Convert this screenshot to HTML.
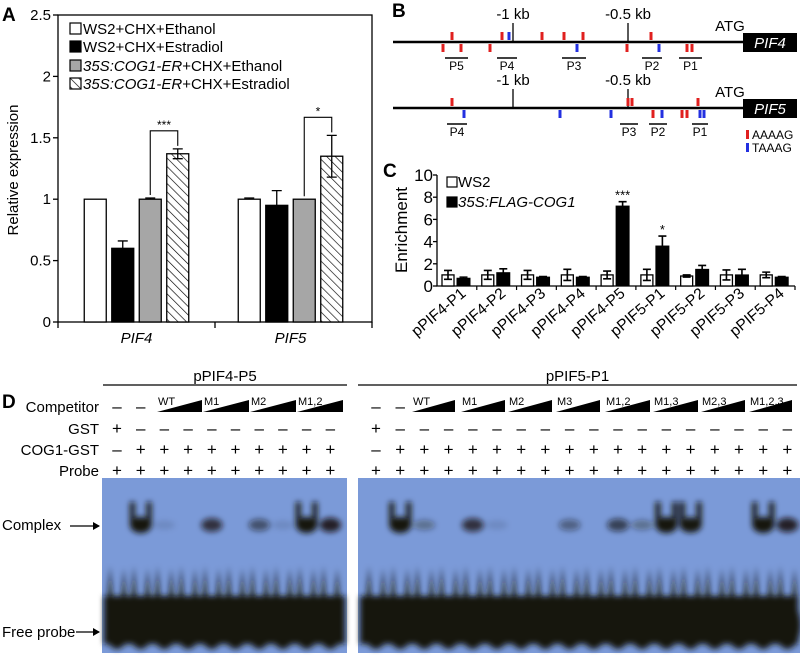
<!DOCTYPE html>
<html><head><meta charset="utf-8"><style>
html,body{margin:0;padding:0;background:#fff}
svg{display:block;font-family:"Liberation Sans",Arial,sans-serif}
</style></head><body>
<svg id="fig" width="800" height="655" viewBox="0 0 800 655">
<defs>
<pattern id="hatch" patternUnits="userSpaceOnUse" width="6" height="6" patternTransform="rotate(-45)">
<rect width="6" height="6" fill="#fff"/><line x1="0" y1="0" x2="0" y2="6" stroke="#000" stroke-width="1.3"/></pattern>
<filter id="blur3"><feGaussianBlur stdDeviation="3"/></filter>
</defs>
<g id="pa"></g>
<g id="pb"></g>
<g id="pc"></g>
<g id="pd"></g>
</svg>
<script>
// Panel A data
const aGenes = ["PIF4","PIF5"];
const aSeries = ["WS2+CHX+Ethanol","WS2+CHX+Estradiol","35S:COG1-ER+CHX+Ethanol","35S:COG1-ER+CHX+Estradiol"];
const aPIF4 = [1.0, 0.6, 1.0, 1.37];
const aPIF5 = [1.0, 0.95, 1.0, 1.35];
const aErr4 = [0, 0.06, 0.01, 0.04];
const aErr5 = [0.01, 0.12, 0, 0.17];
const aTicks = [0, 0.5, 1, 1.5, 2, 2.5];
const aTickLabels = ["0","0.5","1","1.5","2","2.5"];
// Panel C data
const cCats = ["pPIF4-P1","pPIF4-P2","pPIF4-P3","pPIF4-P4","pPIF4-P5","pPIF5-P1","pPIF5-P2","pPIF5-P3","pPIF5-P4"];
const cWS2 = [1.0, 1.0, 1.0, 1.0, 1.0, 1.0, 0.9, 1.0, 1.0];
const cWS2Err = [0.4, 0.4, 0.4, 0.5, 0.35, 0.5, 0.1, 0.45, 0.25];
const cFLAG = [0.7, 1.2, 0.8, 0.8, 7.2, 3.6, 1.5, 1.0, 0.8];
const cFLAGErr = [0.1, 0.35, 0.05, 0.05, 0.4, 0.9, 0.35, 0.5, 0.05];
const cTicks = [0,2,4,6,8,10];
// Panel D data
const dLeftComplex = [0,1,0.1,0,0.7,0,0.5,0.1,1,0.8];
const dRightComplex = [0,1,0.3,0,0.7,0.1,0,0,0.4,0,0.6,0.3,1,0.9,0,0,1,0.8];

const NS="http://www.w3.org/2000/svg";
function mk(parent,tag,attrs,text){const e=document.createElementNS(NS,tag);for(const k in attrs)e.setAttribute(k,attrs[k]);if(text!==undefined)e.textContent=text;parent.appendChild(e);return e;}

/* ---------- Panel A ---------- */
const pa=document.getElementById('pa');
const aY0=322, aY1=15, aX0=58, aX1=372;
const ay=v=>aY0-(v/2.5)*(aY0-aY1);
let t=mk(pa,'text',{x:2,y:21,'font-size':19,'font-weight':'bold'},'A');

let fr=mk(pa,'rect',{x:aX0,y:aY1,width:aX1-aX0,height:aY0-aY1,fill:'none',stroke:'#000','stroke-width':1.3});

aTicks.forEach((v,i)=>{
  let l=mk(pa,'line',{x1:aX0-5,x2:aX0,y1:ay(v),y2:ay(v),stroke:'#000','stroke-width':1.3});
  
  let tx=mk(pa,'text',{x:aX0-7,y:ay(v)+5,'font-size':15,'text-anchor':'end'},aTickLabels[i]);
  
});
t=mk(pa,'text',{x:0,y:0,'font-size':15,'text-anchor':'middle',transform:'translate(18,170) rotate(-90)'},'Relative expression');

const aCatW=(aX1-aX0)/aGenes.length;
[aX0,aX0+aCatW,aX1].forEach(x=>{let l=mk(pa,'line',{x1:x,x2:x,y1:aY0,y2:aY0+6,stroke:'#000','stroke-width':1.3});});
const aFills=['#fff','#000','#a6a6a6','url(#hatch)'];
const aBarW=22, aStep=27.5;
const aTopY=[];
aGenes.forEach((g,gi)=>{
  const vals=gi?aPIF5:aPIF4, errs=gi?aErr5:aErr4;
  const cx=aX0+aCatW*(gi+0.5)+ (gi? -3:0);
  aTopY.push([]);
  vals.forEach((v,si)=>{
    const x=cx-2*aStep+si*aStep+(aStep-aBarW)/2;
    let r=mk(pa,'rect',{x:x,y:ay(v),width:aBarW,height:aY0-ay(v),fill:aFills[si],stroke:'#000','stroke-width':1.3});
    
    const mx=x+aBarW/2;
    if(errs[si]>0.005){
      let e=mk(pa,'path',{d:`M${mx},${ay(v)}V${ay(v+errs[si])}M${mx-5},${ay(v+errs[si])}H${mx+5}`+(si===3?`M${mx},${ay(v)}V${ay(v-errs[si])}M${mx-5},${ay(v-errs[si])}H${mx+5}`:''),stroke:'#000','stroke-width':1.3,fill:'none'});
      
    }
    aTopY[gi].push([mx,ay(v+errs[si])]);
  });
  let lb=mk(pa,'text',{x:cx,y:343,'font-size':15,'font-style':'italic','text-anchor':'middle'},g);
  
  const [gx,gy]=aTopY[gi][2],[hx,hy]=aTopY[gi][3];
  const by=Math.min(gy,hy)-18;
  let br=mk(pa,'path',{d:`M${gx},${gy-3}V${by}H${hx}V${hy-3}`,stroke:'#000','stroke-width':1.1,fill:'none'});
  
  let st=mk(pa,'text',{x:(gx+hx)/2,y:by-2,'font-size':12,'text-anchor':'middle'},gi?'*':'***');
  
});
const aLegY=[34,52,71,89];
aSeries.forEach((s,i)=>{
  let g=mk(pa,'g',{});
  
  mk(g,'rect',{x:70,y:aLegY[i]-11,width:11,height:11,fill:aFills[i],stroke:'#000','stroke-width':1.2});
  let tx=mk(g,'text',{x:83,y:aLegY[i],'font-size':15});
  if(i>=2){mk(tx,'tspan',{'font-style':'italic'},'35S:COG1-ER');mk(tx,'tspan',{},'+CHX+'+(i===2?'Ethanol':'Estradiol'));}
  else tx.textContent=s;
});

/* ---------- Panel B ---------- */
const pb=document.getElementById('pb');
t=mk(pb,'text',{x:392,y:17,'font-size':19,'font-weight':'bold'},'B');

function promoter(name,ly,kb1,kb05,redUp,redDn,blueUp,blueDn,segs){
  const g=mk(pb,'g',{});
  
  mk(g,'line',{x1:393,x2:744,y1:ly,y2:ly,stroke:'#000','stroke-width':2.6});
  mk(g,'rect',{x:743,y:ly-9,width:54,height:19,fill:'#000'});
  mk(g,'text',{x:770,y:ly+6,'font-size':15,'font-style':'italic',fill:'#fff','text-anchor':'middle'},name);
  mk(g,'text',{x:730,y:ly-11,'font-size':15,'text-anchor':'middle'},'ATG');
  mk(g,'line',{x1:kb1,x2:kb1,y1:ly-19,y2:ly,stroke:'#000','stroke-width':1.3});
  mk(g,'text',{x:kb1,y:ly-23,'font-size':15,'text-anchor':'middle'},'-1 kb');
  mk(g,'line',{x1:kb05,x2:kb05,y1:ly-19,y2:ly,stroke:'#000','stroke-width':1.3});
  mk(g,'text',{x:kb05,y:ly-23,'font-size':15,'text-anchor':'middle'},'-0.5 kb');
  redUp.forEach(x=>mk(g,'rect',{x:x-1.5,y:ly-10,width:3,height:8,fill:'#e0201f'}));
  redDn.forEach(x=>mk(g,'rect',{x:x-1.5,y:ly+2,width:3,height:8,fill:'#e0201f'}));
  blueUp.forEach(x=>mk(g,'rect',{x:x-1.5,y:ly-10,width:3,height:8,fill:'#2330e0'}));
  blueDn.forEach(x=>mk(g,'rect',{x:x-1.5,y:ly+2,width:3,height:8,fill:'#2330e0'}));
  segs.forEach(s=>{mk(g,'line',{x1:s[0],x2:s[1],y1:ly+16,y2:ly+16,stroke:'#000','stroke-width':1.5});
    mk(g,'text',{x:(s[0]+s[1])/2,y:ly+28,'font-size':12,'text-anchor':'middle'},s[2]);});
}
promoter('PIF4',42,513,628,[452,502,542,564,583,651],[443,461,490,627,687,692],[509],[577,659],
  [[445,468,'P5'],[497,517,'P4'],[562,586,'P3'],[642,662,'P2'],[679,702,'P1']]);
promoter('PIF5',108,513,628,[452,628,632,698],[653,682,687],[],[464,560,611,662,700,704],
  [[447,467,'P4'],[620,638,'P3'],[649,667,'P2'],[692,708,'P1']]);
let lg=mk(pb,'g',{});
mk(lg,'rect',{x:746,y:130,width:3,height:9,fill:'#e0201f'});
mk(lg,'text',{x:752,y:139,'font-size':12},'AAAAG');
mk(lg,'rect',{x:746,y:143,width:3,height:9,fill:'#2330e0'});
mk(lg,'text',{x:752,y:152,'font-size':12},'TAAAG');

/* ---------- Panel C ---------- */
const pc=document.getElementById('pc');
const cX0=437,cX1=795,cY0=286,cY1=175;
const cy=v=>cY0-(v/10)*(cY0-cY1);
t=mk(pc,'text',{x:383,y:177,'font-size':19,'font-weight':'bold'},'C');

let ax=mk(pc,'path',{d:`M${cX0},${cY1}V${cY0}H${cX1}`,stroke:'#000','stroke-width':1.3,fill:'none'});

cTicks.forEach(v=>{
  let l=mk(pc,'line',{x1:cX0-4,x2:cX0,y1:cy(v),y2:cy(v),stroke:'#000','stroke-width':1.3});
  
  let tx=mk(pc,'text',{x:cX0-4,y:cy(v)+6,'font-size':17,'text-anchor':'end'},String(v));
  
});
t=mk(pc,'text',{x:0,y:0,'font-size':17,'text-anchor':'middle',transform:'translate(407,230) rotate(-90)'},'Enrichment');

const cW=(cX1-cX0)/cCats.length;
cCats.forEach((c,i)=>{
  const x0=cX0+i*cW;
  let l=mk(pc,'line',{x1:x0+cW,x2:x0+cW,y1:cY0,y2:cY0+4,stroke:'#000','stroke-width':1.2});
  
  const wx=x0+5, bx=x0+20;
  let r=mk(pc,'rect',{x:wx,y:cy(cWS2[i]),width:12,height:cY0-cy(cWS2[i]),fill:'#fff',stroke:'#000','stroke-width':1.3});
  
  let r2=mk(pc,'rect',{x:bx,y:cy(cFLAG[i]),width:13,height:cY0-cy(cFLAG[i]),fill:'#000',stroke:'#000','stroke-width':1});
  
  [[wx+6,cWS2[i],cWS2Err[i]],[bx+6.5,cFLAG[i],cFLAGErr[i]]].forEach(([mx,v,e])=>{
    let eb=mk(pc,'path',{d:`M${mx},${cy(v-e)}V${cy(v+e)}M${mx-4},${cy(v+e)}H${mx+4}M${mx-4},${cy(v-e)}H${mx+4}`,stroke:'#000','stroke-width':1.6,fill:'none'});
    
  });
  const lx=x0+cW/2+10;
  let tx=mk(pc,'text',{x:0,y:0,'font-size':15.5,'text-anchor':'end',transform:`translate(${lx},${cY0+9}) rotate(-40)`},c);
  
});
[[4,'***'],[5,'*']].forEach(([i,s])=>{
  let st=mk(pc,'text',{x:cX0+i*cW+26.5,y:cy(cFLAG[i]+cFLAGErr[i])-2,'font-size':13,'text-anchor':'middle'},s);
  
});
[[187,'#fff','WS2',false],[207,'#000','35S:FLAG-COG1',true]].forEach(([y,f,s,it])=>{
  let g=mk(pc,'g',{});
  mk(g,'rect',{x:447,y:y-10,width:10,height:10,fill:f,stroke:'#000','stroke-width':1.2});
  mk(g,'text',{x:458,y:y,'font-size':15,'font-style':it?'italic':'normal'},s);
});

/* ---------- Panel D ---------- */
const pd=document.getElementById('pd');
t=mk(pd,'text',{x:2,y:408,'font-size':19,'font-weight':'bold'},'D');

[[103,347,'pPIF4-P5'],[358,797,'pPIF5-P1']].forEach(([a,b,s])=>{
  let g=mk(pd,'g',{});
  mk(g,'line',{x1:a,x2:b,y1:385,y2:385,stroke:'#000','stroke-width':1.2});
  mk(g,'text',{x:(a+b)/2,y:381,'font-size':15,'text-anchor':'middle'},s);
});
[['Competitor',412],['GST',434],['COG1-GST',455],['Probe',476]].forEach(([s,y])=>{
  let tx=mk(pd,'text',{x:99,y:y,'font-size':15,'text-anchor':'end'},s);
  
});
function lanes(x0,step,n,complex,gx0,gx1,triangles){
  const xs=[];for(let i=0;i<n;i++)xs.push(x0+i*step);
  xs.forEach((x,i)=>{
    const sym=[i<2?'–':null, i===0?'+':'–', i===0?'–':'+', '+'];
    const ys=[412,434,455,476];
    sym.forEach((s,k)=>{if(s){let tx=mk(pd,'text',{x:x,y:ys[k],'font-size':17,'text-anchor':'middle'},s);
      }});
  });
  triangles.forEach(([a,b,s])=>{
    let g=mk(pd,'g',{});
    mk(g,'polygon',{points:`${a},412 ${b},400 ${b},412`,fill:'#000'});
    mk(g,'text',{x:a+1,y:405,'font-size':11},s);
  });
  const gel=mk(pd,'g',{});
  mk(gel,'rect',{x:gx0,y:478,width:gx1-gx0,height:175,fill:'#7b9ad8'});
  const dk=mk(gel,'g',{filter:'url(#blur3)'});
  mk(dk,'rect',{x:gx0+2,y:596,width:gx1-gx0-4,height:48,fill:'#17130f'});
  xs.forEach((x,i)=>{
    mk(dk,'ellipse',{cx:x,cy:625,rx:step*0.55,ry:24,fill:'#17130f'});
    mk(dk,'polygon',{points:`${x-step/2+2},610 ${x-step/2+5},566 ${x-step/2+8},610`,fill:'#17130f'});
    mk(dk,'polygon',{points:`${x+step/2-8},610 ${x+step/2-5},568 ${x+step/2-2},610`,fill:'#17130f'});
    const c=complex[i];
    if(c>0){
      mk(dk,'ellipse',{cx:x,cy:525,rx:step*0.45,ry:4+4*c,fill:'#17130f','fill-opacity':Math.min(1,c*1.1)});
      if(c>0.8){mk(dk,'rect',{x:x-step*0.45,y:502,width:step*0.2,height:25,fill:'#17130f'});
        mk(dk,'rect',{x:x+step*0.25,y:502,width:step*0.2,height:25,fill:'#17130f'});}
    }
  });
}
lanes(117,23.7,10,dLeftComplex,102,347,[[157,202,'WT'],[203,249,'M1'],[250,296,'M2'],[297,343,'M1,2']]);
lanes(376,24.2,18,dRightComplex,358,800,[[412,455,'WT'],[461,505,'M1'],[508,552,'M2'],[556,600,'M3'],[605,650,'M1,2'],[653,698,'M1,3'],[701,745,'M2,3'],[749,792,'M1,2,3']]);
[['Complex',530,526],['Free probe',637,632]].forEach(([s,ty,ay2])=>{
  let g=mk(pd,'g',{});
  mk(g,'text',{x:2,y:ty,'font-size':15},s);
  const w=s==='Complex'?70:76;
  mk(g,'line',{x1:w,x2:99,y1:ay2,y2:ay2,stroke:'#000','stroke-width':1.3});
  mk(g,'polygon',{points:`100,${ay2} 93,${ay2-4} 93,${ay2+4}`,fill:'#000'});
});
</script>
</body></html>
